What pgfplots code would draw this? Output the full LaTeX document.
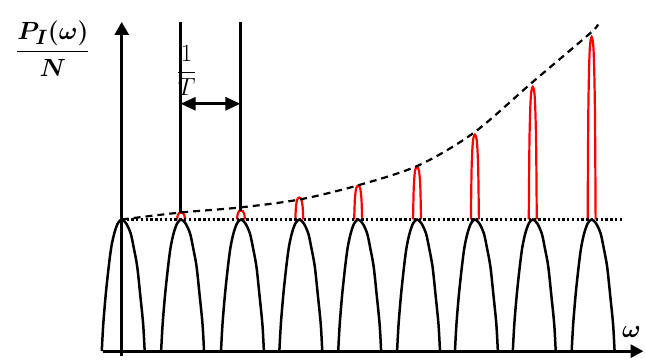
\documentclass[border=0pt]{standalone}
\usepackage{amsmath,amssymb}
\usepackage{pgfplots}
\pgfplotsset{compat=1.18}
\usetikzlibrary{arrows.meta}

\begin{document}
\begin{tikzpicture}
\begin{axis}[width=645pt, height=360pt, scale only axis, xmin=0, xmax=645, ymin=0, ymax=360,
  hide axis, clip=false]
  \path (axis cs:0,0) rectangle (axis cs:645,360);
  % axes
  \draw[line width=3pt, -{Triangle[length=13pt,width=13pt]}] (axis cs:103,8) -- (axis cs:645,8);
  \draw[line width=3pt, -{Triangle[length=13pt,width=14pt]}] (axis cs:122,3) -- (axis cs:122,338);
  % black humps
  \addplot[black, line width=2.5pt, smooth, tension=0.5] coordinates {(102,8) (103.5,35) (106,65) (109,93) (111.5,112) (114.5,126) (118,136) (122,140) (126.5,136) (131,126) (134,112) (137.5,93) (140.5,65) (143.5,35) (145,8)};
  \addplot[black, line width=2.5pt, smooth, tension=0.5] coordinates {(161.5,8) (163,35) (165.5,65) (168.5,93) (171,112) (174,126) (177.5,136) (181.5,140) (186,136) (190.5,126) (193.5,112) (197,93) (200,65) (203,35) (204.5,8)};
  \addplot[black, line width=2.5pt, smooth, tension=0.5] coordinates {(221.5,8) (223,35) (225.5,65) (228.5,93) (231,112) (234,126) (237.5,136) (241.5,140) (246,136) (250.5,126) (253.5,112) (257,93) (260,65) (263,35) (264.5,8)};
  \addplot[black, line width=2.5pt, smooth, tension=0.5] coordinates {(280,8) (281.5,35) (284,65) (287,93) (289.5,112) (292.5,126) (296,136) (300,140) (304.5,136) (309,126) (312,112) (315.5,93) (318.5,65) (321.5,35) (323,8)};
  \addplot[black, line width=2.5pt, smooth, tension=0.5] coordinates {(339,8) (340.5,35) (343,65) (346,93) (348.5,112) (351.5,126) (355,136) (359,140) (363.5,136) (368,126) (371,112) (374.5,93) (377.5,65) (380.5,35) (382,8)};
  \addplot[black, line width=2.5pt, smooth, tension=0.5] coordinates {(398,8) (399.5,35) (402,65) (405,93) (407.5,112) (410.5,126) (414,136) (418,140) (422.5,136) (427,126) (430,112) (433.5,93) (436.5,65) (439.5,35) (441,8)};
  \addplot[black, line width=2.5pt, smooth, tension=0.5] coordinates {(456,8) (457.5,35) (460,65) (463,93) (465.5,112) (468.5,126) (472,136) (476,140) (480.5,136) (485,126) (488,112) (491.5,93) (494.5,65) (497.5,35) (499,8)};
  \addplot[black, line width=2.5pt, smooth, tension=0.5] coordinates {(514,8) (515.5,35) (518,65) (521,93) (523.5,112) (526.5,126) (530,136) (534,140) (538.5,136) (543,126) (546,112) (549.5,93) (552.5,65) (555.5,35) (557,8)};
  \addplot[black, line width=2.5pt, smooth, tension=0.5] coordinates {(573,8) (574.5,35) (577,65) (580,93) (582.5,112) (585.5,126) (589,136) (593,140) (597.5,136) (602,126) (605,112) (608.5,93) (611.5,65) (614.5,35) (616,8)};
  % red spikes
  \addplot[red, line width=2.2pt, smooth, tension=0.5] coordinates {(177.5,140) (178.2,144.2) (179.5,146.4) (181.5,147) (183.5,146.4) (184.8,144.2) (185.5,140)};
  \addplot[red, line width=2.2pt, smooth, tension=0.5] coordinates {(237.5,140) (238.2,145.4) (239.5,148.3) (241.5,149) (243.5,148.3) (244.8,145.4) (245.5,140)};
  \addplot[red, line width=2.2pt, smooth, tension=0.5] coordinates {(296,140) (296.7,153.2) (298,160.2) (300,162) (302,160.2) (303.3,153.2) (304,140)};
  \addplot[red, line width=2.2pt, smooth, tension=0.5] coordinates {(355,140) (355.7,160.4) (357,171.3) (359,174) (361,171.3) (362.3,160.4) (363,140)};
  \addplot[red, line width=2.2pt, smooth, tension=0.5] coordinates {(414,140) (414.7,171.8) (416,188.8) (418,193) (420,188.8) (421.3,171.8) (422,140)};
  \addplot[red, line width=2.2pt, smooth, tension=0.5] coordinates {(472,140) (472.7,191) (474,218.2) (476,225) (478,218.2) (479.3,191) (480,140)};
  \addplot[red, line width=2.2pt, smooth, tension=0.5] coordinates {(530,140) (530.7,219.8) (532,262.4) (534,273) (536,262.4) (537.3,219.8) (538,140)};
  \addplot[red, line width=2.2pt, smooth, tension=0.5] coordinates {(589,140) (589.7,249.8) (591,308.4) (593,323) (595,308.4) (596.3,249.8) (597,140)};
  % envelope and base level
  \addplot[black, line width=2.2pt, dash pattern=on 7pt off 5pt, smooth] coordinates {(122,140) (181,147) (240,152) (300,160) (358,174) (419,194) (475,227) (533,277) (593,328) (598,335)};
  \addplot[black, line width=2.6pt, dash pattern=on 2.4pt off 2.4pt] coordinates {(122,140) (623,140)};
  % 1/T marker
  \addplot[black, line width=2.2pt] coordinates {(181,338) (181,147)};
  \addplot[black, line width=2.2pt] coordinates {(241,338) (241,149)};
  \draw[line width=2.6pt, {Triangle[length=15pt,width=13pt]}-{Triangle[length=15pt,width=13pt]}] (axis cs:181,256) -- (axis cs:241,256);
  \node[font=\fontsize{30}{34}\selectfont, inner sep=0pt] at (axis cs:187,289) {$\dfrac{1}{T}$};
  % labels
  \node[font=\fontsize{29}{33}\selectfont, inner sep=0pt] at (axis cs:53,311) {$\boldsymbol{\dfrac{P_I(\omega)}{N}}$};
  \node[font=\fontsize{28}{32}\selectfont, inner sep=0pt] at (axis cs:633,27) {$\boldsymbol{\omega}$};
\end{axis}
\end{tikzpicture}
\end{document}
